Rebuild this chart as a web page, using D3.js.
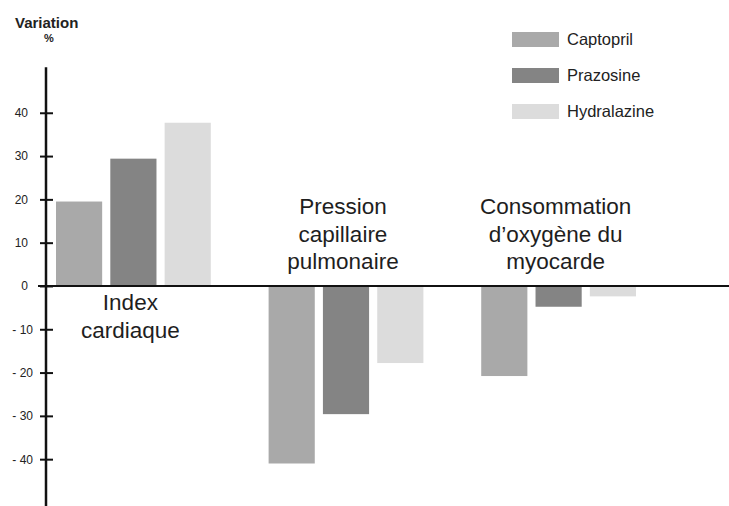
<!DOCTYPE html>
<html>
<head>
<meta charset="utf-8">
<script src="https://cdn.jsdelivr.net/npm/d3@7"></script>
<style>
    body { margin: 0; background: #fff; }
    svg { display: block; font-family: "Liberation Sans", Arial, sans-serif; }
</style>
</head>
<body>
<svg id="chart" width="729" height="506"></svg>
<script>
// categories, each label split in lines
var categories = ["Index cardiaque", "Pression capillaire pulmonaire", "Consommation d'oxygène du myocarde"];
var categoryLines = [
    ["Index", "cardiaque"],
    ["Pression", "capillaire", "pulmonaire"],
    ["Consommation", "d\u2019oxygène du", "myocarde"]
];
var series = ["Captopril", "Prazosine", "Hydralazine"];
var captopril = [19.5, -41, -20.8];
var prazosine = [29.4, -29.6, -4.8];
var hydralazine = [37.7, -17.8, -2.4];
var yTicks = [40, 30, 20, 10, 0, -10, -20, -30, -40];
var colors = ["#a9a9a9", "#848484", "#dcdcdc"];

var values = [captopril, prazosine, hydralazine];

var svg = d3.select("#chart");
var axisX = 46;

var y = d3.scaleLinear()
    .domain([-51, 50.5])
    .range([506.8, 67.3]);

var x0 = d3.scaleBand()
    .domain(categories)
    .range([56, 636])
    .paddingInner(0.272)
    .paddingOuter(0);

var x1 = d3.scaleBand()
    .domain(series)
    .range([0, x0.bandwidth()])
    .paddingInner(0.15);

// bars
categories.forEach(function (c, ci) {
    var g = svg.append("g").attr("transform", "translate(" + x0(c) + ",0)");
    series.forEach(function (s, si) {
        var v = values[si][ci];
        g.append("rect")
            .attr("x", x1(s))
            .attr("y", y(Math.max(0, v)))
            .attr("width", x1.bandwidth())
            .attr("height", Math.abs(y(v) - y(0)))
            .style("fill", colors[si]);
    });
});

// category labels
categories.forEach(function (c, ci) {
    var lines = categoryLines[ci];
    var cx = x0(c) + x0.bandwidth() / 2 - 3;
    var startY = ci == 0 ? 310 : 214;
    var t = svg.append("text")
        .attr("text-anchor", "middle")
        .style("font-size", "22.5px")
        .style("fill", "#1e1e1e");
    lines.forEach(function (l, li) {
        t.append("tspan")
            .attr("x", cx)
            .attr("y", startY + li * 27.5)
            .text(l);
    });
});

// zero line
svg.append("line")
    .attr("x1", 38)
    .attr("x2", 729)
    .attr("y1", y(0))
    .attr("y2", y(0))
    .style("stroke", "#111")
    .style("stroke-width", 2);

// y axis
var yAxis = d3.axisLeft(y)
    .tickValues(yTicks)
    .tickSize(6)
    .tickFormat(function (d) {
        return d < 0 ? "- " + Math.abs(d) : d;
    });

var ga = svg.append("g")
    .attr("transform", "translate(" + axisX + ",0)")
    .call(yAxis);
ga.select(".domain").remove();
ga.selectAll(".tick line")
    .attr("x1", -6)
    .attr("x2", 7)
    .style("stroke", "#111")
    .style("stroke-width", 2);
ga.selectAll(".tick text")
    .attr("x", function (d) { return d < 0 ? -13 : -18; })
    .style("font-family", "'Liberation Sans', Arial, sans-serif")
    .style("font-size", "12px")
    .style("fill", "#222");

svg.append("line")
    .attr("x1", axisX)
    .attr("x2", axisX)
    .attr("y1", y(50.5))
    .attr("y2", 506)
    .style("stroke", "#111")
    .style("stroke-width", 2.5);

// axis title
svg.append("text")
    .attr("x", 15)
    .attr("y", 28)
    .style("font-size", "15px")
    .style("font-weight", "bold")
    .style("fill", "#222")
    .text("Variation");
svg.append("text")
    .attr("x", 49)
    .attr("y", 42)
    .attr("text-anchor", "middle")
    .style("font-size", "11px")
    .style("font-weight", "bold")
    .style("fill", "#222")
    .text("%");

// legend
var legend = svg.append("g").attr("transform", "translate(512,32)");
series.forEach(function (s, i) {
    var row = legend.append("g").attr("transform", "translate(0," + i * 36 + ")");
    row.append("rect")
        .attr("width", 47)
        .attr("height", 15)
        .style("fill", colors[i]);
    row.append("text")
        .attr("x", 55)
        .attr("y", 7.5)
        .attr("dy", ".35em")
        .style("font-size", "16.5px")
        .style("fill", "#222")
        .text(s);
});
</script>
</body>
</html>
